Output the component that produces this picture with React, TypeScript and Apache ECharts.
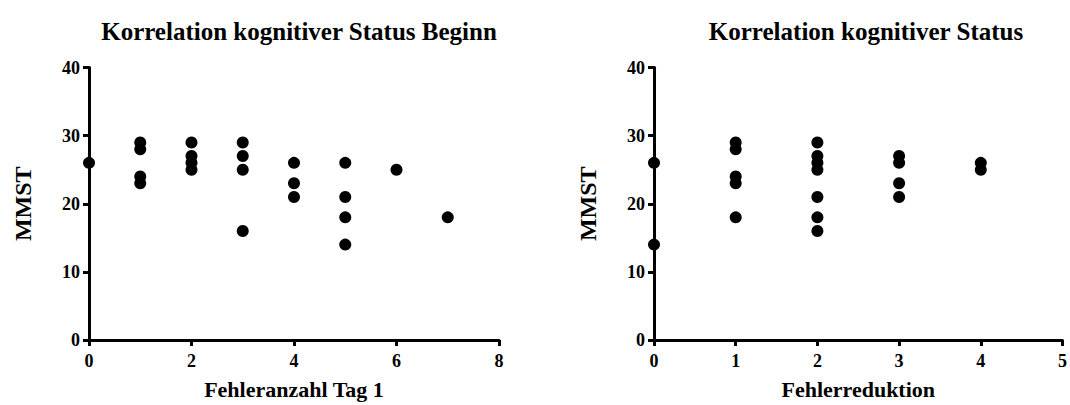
import React, { useEffect, useRef } from "react";
import * as echarts from "echarts";

const leftTitle = "Korrelation kognitiver Status Beginn";
const rightTitle = "Korrelation kognitiver Status";
const leftXName = "Fehleranzahl Tag 1";
const rightXName = "Fehlerreduktion";
const yName = "MMST";

const leftX = [0, 1, 1, 1, 1, 2, 2, 2, 2, 3, 3, 3, 3, 4, 4, 4, 5, 5, 5, 5, 6, 7];
const leftY = [26, 29, 28, 24, 23, 29, 27, 26, 25, 29, 27, 25, 16, 26, 23, 21, 26, 21, 18, 14, 25, 18];

const rightX = [0, 0, 1, 1, 1, 1, 1, 2, 2, 2, 2, 2, 2, 2, 3, 3, 3, 3, 4, 4];
const rightY = [26, 14, 29, 28, 24, 23, 18, 29, 27, 26, 25, 21, 18, 16, 27, 26, 23, 21, 26, 25];

const FONT = "'Liberation Serif', 'DejaVu Serif', serif";

export default function App() {
  const ref = useRef<HTMLDivElement>(null);
  useEffect(() => {
    if (!ref.current) return;
    const chart = echarts.init(ref.current, null, { renderer: "svg" });
    const axisLine = { show: true, lineStyle: { color: "#000", width: 3 } };
    const axisTick = { show: true, inside: false, length: 6, lineStyle: { color: "#000", width: 3 } };
    const label = { color: "#000", fontFamily: FONT, fontWeight: "bold" as const, fontSize: 18 };
    const nameStyle = { color: "#000", fontFamily: FONT, fontWeight: "bold" as const, fontSize: 22 };
    const mkX = (gi: number, max: number, interval: number, name: string) => ({
      type: "value",
      gridIndex: gi,
      min: 0,
      max,
      interval,
      name,
      nameLocation: "middle",
      nameGap: 38,
      nameTextStyle: nameStyle,
      axisLine,
      axisTick,
      axisLabel: { ...label, margin: 12 },
      splitLine: { show: false },
    });
    const mkY = (gi: number) => ({
      type: "value",
      gridIndex: gi,
      min: 0,
      max: 40,
      interval: 10,
      name: yName,
      nameLocation: "middle",
      nameGap: 54,
      nameTextStyle: { ...nameStyle, fontSize: 24 },
      axisLine,
      axisTick,
      axisLabel: { ...label, margin: 9 },
      splitLine: { show: false },
    });
    const titleStyle = { color: "#000", fontFamily: FONT, fontWeight: "bold", fontSize: 25 };
    chart.setOption({
      animation: false,
      backgroundColor: "#fff",
      title: [
        { text: leftTitle, left: 294, top: 14, textAlign: "center", textStyle: titleStyle },
        { text: rightTitle, left: 861, top: 14, textAlign: "center", textStyle: titleStyle },
      ],
      grid: [
        { left: 89, right: 571, top: 67.5, bottom: 64.5 },
        { left: 654, right: 6, top: 67.5, bottom: 64.5 },
      ],
      xAxis: [mkX(0, 8, 2, leftXName), mkX(1, 5, 1, rightXName)],
      yAxis: [mkY(0), mkY(1)],
      series: [
        {
          type: "scatter",
          xAxisIndex: 0,
          yAxisIndex: 0,
          symbolSize: 12,
          itemStyle: { color: "#000", opacity: 1 },
          data: leftX.map((x, i) => [x, leftY[i]]),
          clip: false,
          z: 5,
        },
        {
          type: "scatter",
          xAxisIndex: 1,
          yAxisIndex: 1,
          symbolSize: 12,
          itemStyle: { color: "#000", opacity: 1 },
          data: rightX.map((x, i) => [x, rightY[i]]),
          clip: false,
          z: 5,
        },
      ],
    });
    return () => chart.dispose();
  }, []);
  return <div ref={ref} style={{ width: 1070, height: 405, position: "absolute", left: 0, top: 0 }} />;
}
